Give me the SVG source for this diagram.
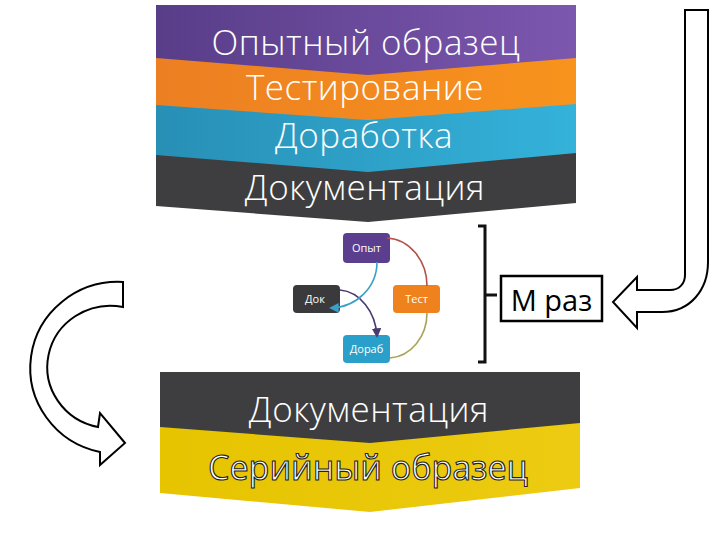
<svg xmlns="http://www.w3.org/2000/svg" width="720" height="540" viewBox="0 0 720 540">
<defs>
<style>
.band{font-family:"Open Sans","Noto Sans","DejaVu Sans",sans-serif;font-size:35px;font-weight:300;letter-spacing:0.5px;fill:#fff;text-anchor:middle}
.node{font-family:"Open Sans","Noto Sans","DejaVu Sans",sans-serif;font-size:11px;fill:#fff;text-anchor:middle}
.arc{fill:none;stroke-width:1.6}
.outline{fill:#fff;stroke:#000;stroke-width:2;stroke-linejoin:miter}
</style>
<linearGradient id="gP" x1="0" x2="1" y1="0" y2="0"><stop offset="0" stop-color="#583d89"/><stop offset="1" stop-color="#7c57ae"/></linearGradient>
<linearGradient id="gO" x1="0" x2="1" y1="0" y2="0"><stop offset="0" stop-color="#ec7f22"/><stop offset="1" stop-color="#f8931d"/></linearGradient>
<linearGradient id="gT" x1="0" x2="1" y1="0" y2="0"><stop offset="0" stop-color="#288fb5"/><stop offset="1" stop-color="#34b2da"/></linearGradient>
<linearGradient id="gY" x1="0" x2="1" y1="0" y2="0"><stop offset="0" stop-color="#e6c400"/><stop offset="1" stop-color="#eccb12"/></linearGradient>
<marker id="mTeal" viewBox="0 0 10 10" refX="8" refY="5" markerWidth="6" markerHeight="6" orient="auto"><path d="M0,0 L10,5 L0,10 Z" fill="#3aa0c8"/></marker>
<marker id="mPurp" viewBox="0 0 10 10" refX="8" refY="5" markerWidth="6" markerHeight="6" orient="auto"><path d="M0,0 L10,5 L0,10 Z" fill="#4a3a70"/></marker>
</defs>
<rect width="720" height="540" fill="#fff"/>

<g id="top-stack">
<path d="M156,150 H576 V203 L368,222 L156,206 Z" fill="#3e3e40"/>
<path d="M156,100 H576 V153 L368,172 L156,155 Z" fill="url(#gT)"/>
<path d="M156,55 H576 V104 L368,120 L156,105 Z" fill="url(#gO)"/>
<path d="M156,5 H576 V58 L368,75 L156,58 Z" fill="url(#gP)"/>
<text class="band" x="366" y="55">Опытный образец</text>
<text class="band" x="365" y="100">Тестирование</text>
<text class="band" x="364" y="148">Доработка</text>
<text class="band" x="365" y="200">Документация</text>
</g>

<g id="node-opyt"><rect x="343" y="233" width="47" height="30" rx="4" fill="#5c3e8e"/><text class="node" x="366.5" y="252">Опыт</text></g>
<g id="node-dok"><rect x="293" y="285" width="47" height="28" rx="4" fill="#3a3a3c"/><text class="node" x="315" y="303">Док</text></g>
<g id="node-test"><rect x="393" y="285" width="47" height="28" rx="4" fill="#f0821e"/><text class="node" x="416.5" y="303">Тест</text></g>
<g id="node-dorab"><rect x="343" y="335" width="47" height="28" rx="4" fill="#2a9fc9"/><text class="node" x="366.5" y="353">Дораб</text></g>

<g id="connectors">
<path class="arc" d="M387,238 A42,48 0 0 1 427,286" stroke="#b4524a"/>
<path class="arc" d="M427,313 A40,45 0 0 1 390,358" stroke="#a9a455"/>
<path class="arc" d="M340,290 A40,50 0 0 1 377,336" stroke="#4a3a70" marker-end="url(#mPurp)"/>
<path class="arc" d="M377,262 A47,46 0 0 1 331,308" stroke="#3aa0c8" marker-end="url(#mTeal)"/>
</g>

<g id="bracket">
<path d="M478,226 H485 V362 H478 M485,295 H497" fill="none" stroke="#111" stroke-width="3"/>
</g>

<g id="m-raz">
<rect x="501" y="276" width="101" height="45" fill="#fff" stroke="#000" stroke-width="2.5"/>
<text x="551.5" y="311" font-family="Open Sans,Noto Sans,sans-serif" font-size="29" fill="#000" text-anchor="middle">М раз</text>
</g>

<g id="arrow-right">
<path class="outline" d="M685,10 H708 V262 C708,290 690,312 662,312 H637 V328 L613,302 L637,277 V290 H670 C679,290 685,284 685,275 Z"/>
</g>

<g id="arrow-left">
<path class="outline" d="M123,282 A88,86 0 0 0 100,452 L100,465 L125,443 L100,413 L98,427 A63,61 0 0 1 123,307 Z"/>
</g>

<g id="bottom-stack">
<path d="M160,420 H580 V488 L370,512 L160,493 Z" fill="url(#gY)"/>
<path d="M160,372 H580 V423 L370,443 L160,427 Z" fill="#3e3e40"/>
<text class="band" x="369" y="422">Документация</text>
<text x="368" y="480" font-family="Open Sans,Noto Sans,sans-serif" font-size="34" fill="#fff" stroke="#222" stroke-width="1.1" text-anchor="middle">Серийный образец</text>
</g>
</svg>
